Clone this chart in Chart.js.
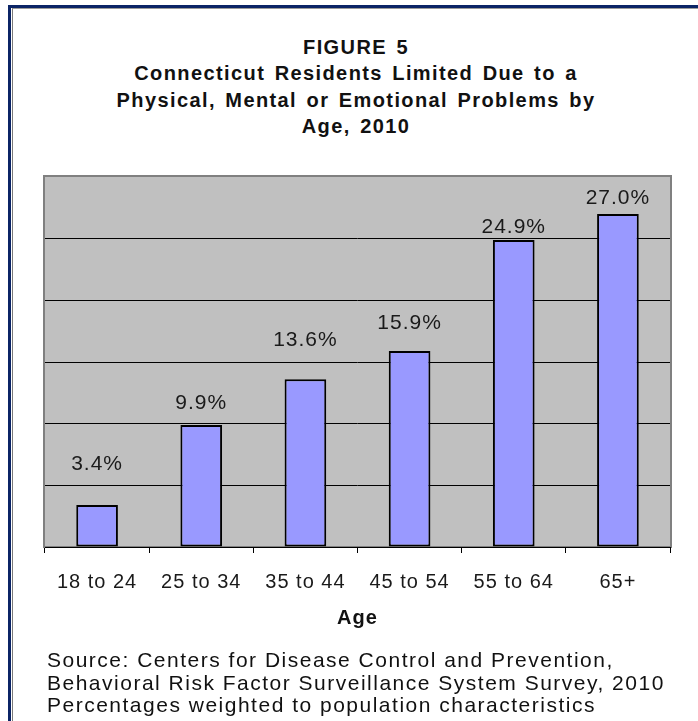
<!DOCTYPE html>
<html>
<head>
<meta charset="utf-8">
<script src="https://cdn.jsdelivr.net/npm/chart.js@4"></script>
<style>
  html, body { margin: 0; padding: 0; background: #fff; }
  body { width: 698px; height: 721px; position: relative; overflow: hidden; font-family: "Liberation Sans", Arial, sans-serif; color: #111; }
  .frame { position: absolute; left: 8px; top: 5px; width: 720px; height: 740px; border-left: 3px solid #0b2466; border-top: 3px solid #0b2466; }
  .frame-inner { position: absolute; left: 12px; top: 8px; width: 720px; height: 740px; border-left: 1px solid #7a7a7a; border-top: 1px solid #9a9a9a; }
  .title { position: absolute; left: 0; width: 712px; top: 34px; text-align: center; font-weight: bold; font-size: 20px; line-height: 26.3px; letter-spacing: 1.4px; word-spacing: 2.5px; }
  .source { position: absolute; left: 47px; top: 649px; font-size: 21px; line-height: 22.5px; letter-spacing: 1.5px; white-space: nowrap; }
  canvas { position: absolute; left: 0; top: 0; }
</style>
</head>
<body>
<div class="frame"></div>
<div class="frame-inner"></div>
<div class="title">FIGURE 5<br>Connecticut Residents Limited Due to a<br>Physical, Mental or Emotional Problems by<br>Age, 2010</div>
<canvas id="ageChart" width="698" height="721"></canvas>
<div class="source">Source: Centers for Disease Control and Prevention,<br>Behavioral Risk Factor Surveillance System Survey, 2010<br>Percentages weighted to population characteristics</div>
<script>
// Share of residents limited by physical, mental or emotional problems, by age group
const ageGroups = ['18 to 24', '25 to 34', '35 to 44', '45 to 54', '55 to 64', '65+'];
const limitedPct = [3.4, 9.9, 13.6, 15.9, 24.9, 27.0];
const yTicks = [0, 5, 10, 15, 20, 25, 30];

// how far each value label sits above its bar (px)
const labelLift = [41, 22, 39, 28, 13, 16];

const FONT = '"Liberation Sans", Arial, sans-serif';

// grey plot background with a darker frame, drawn under the grid
const plotBackground = {
  id: 'plotBackground',
  beforeDraw(chart) {
    const { ctx, chartArea: a } = chart;
    ctx.letterSpacing = '1px';
    ctx.save();
    ctx.fillStyle = '#c0c0c0';
    ctx.fillRect(a.left, a.top, a.right - a.left, a.bottom - a.top);
    ctx.strokeStyle = '#808080';
    ctx.lineWidth = 2;
    ctx.strokeRect(a.left - 1, a.top - 1, a.right - a.left + 2, a.bottom - a.top + 1);
    ctx.restore();
  }
};

// percentage labels above the bars
const valueLabels = {
  id: 'valueLabels',
  afterDatasetsDraw(chart) {
    const { ctx } = chart;
    const bars = chart.getDatasetMeta(0).data;
    ctx.save();
    ctx.font = '21px ' + FONT;
    ctx.letterSpacing = '1px';
    ctx.fillStyle = '#1a1a1a';
    ctx.textAlign = 'center';
    ctx.textBaseline = 'middle';
    bars.forEach((bar, i) => {
      ctx.fillText(limitedPct[i].toFixed(1) + '%', bar.x, bar.y - labelLift[i]);
    });
    ctx.restore();
  }
};

new Chart(document.getElementById('ageChart'), {
  type: 'bar',
  data: {
    labels: ageGroups,
    datasets: [{
      data: limitedPct,
      backgroundColor: '#9999ff',
      borderColor: '#000',
      borderWidth: 2,
      borderSkipped: false,
      barPercentage: 0.4,
      categoryPercentage: 1
    }]
  },
  options: {
    responsive: false,
    animation: false,
    events: [],
    layout: { padding: { left: 45, right: 28, top: 177, bottom: 91 } },
    plugins: { legend: { display: false }, tooltip: { enabled: false } },
    scales: {
      x: {
        offset: true,
        grid: { offset: true, drawOnChartArea: false, color: '#000', tickLength: 6 },
        border: { color: '#000', width: 1 },
        ticks: { color: '#1a1a1a', font: { family: FONT, size: 20 }, padding: 17, maxRotation: 0 },
        title: { display: true, text: 'Age', color: '#111', font: { family: FONT, size: 20, weight: 'bold' }, padding: { top: -5, bottom: 0 } }
      },
      y: {
        min: 0,
        max: 30,
        afterBuildTicks(scale) { scale.ticks = yTicks.map(v => ({ value: v })); },
        ticks: { display: false },
        grid: { color: ctx => (ctx.tick && ctx.tick.value === 30 ? 'rgba(0,0,0,0)' : '#000'), drawTicks: false, lineWidth: 1 },
        border: { display: false }
      }
    }
  },
  plugins: [plotBackground, valueLabels]
});
</script>
</body>
</html>
